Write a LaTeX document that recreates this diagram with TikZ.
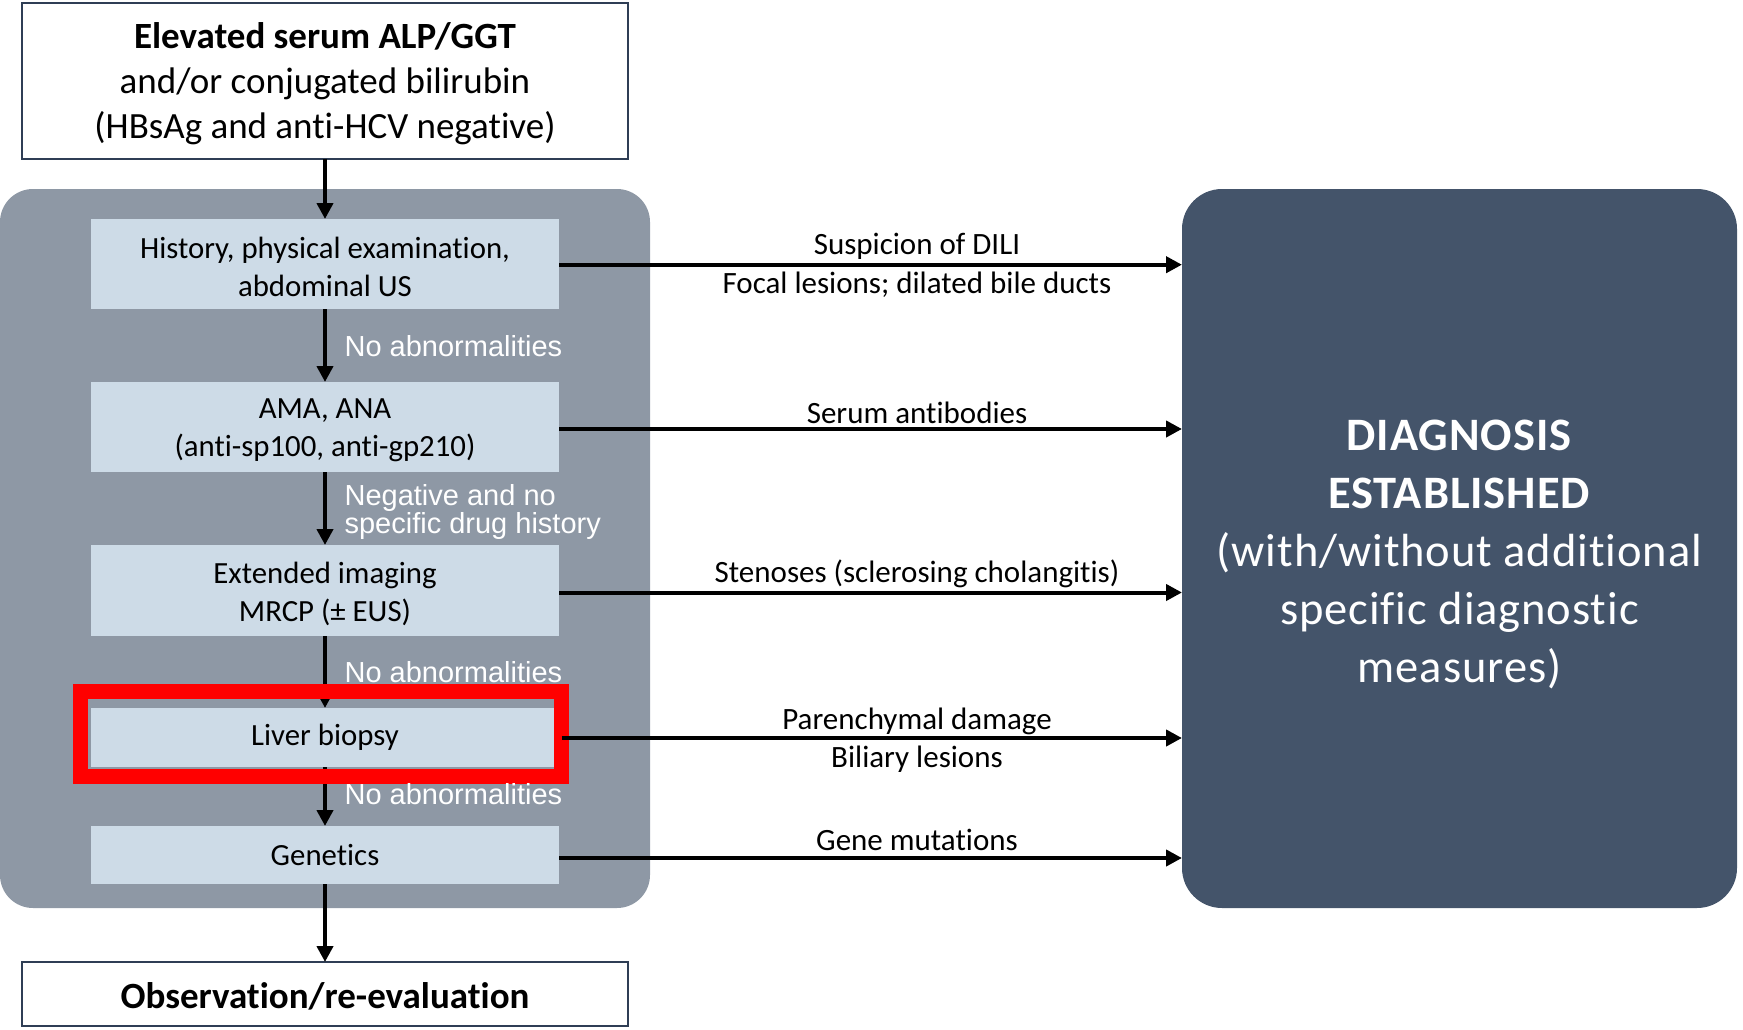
\documentclass[tikz,border=0pt]{standalone}
\usepackage{fontspec}
\setmainfont{Carlito}[Ligatures={NoCommon}]
\newfontfamily\labelfont{Liberation Sans}
\usetikzlibrary{arrows.meta}
\definecolor{panelgray}{RGB}{142,152,165}
\definecolor{lightbox}{RGB}{205,219,231}
\definecolor{darkbox}{RGB}{68,84,106}
\definecolor{borderc}{RGB}{47,62,85}
\newcommand\mytightlines{\lineskiplimit=-100pt\relax\lineskip=0pt\relax}
\begin{document}
\begin{tikzpicture}[x=1pt,y=-1pt,
  every node/.style={inner sep=0pt, outer sep=0pt},
  stepbox/.style={fill=lightbox, minimum width=468pt, align=center, font=\fontsize{30.8}{38.5}\selectfont},
  whitebox/.style={draw=borderc, line width=1.5pt, fill=white, minimum width=606pt, align=center},
  arr/.style={line width=4pt, -{Triangle[length=16pt,width=16pt]}},
  lbl/.style={font=\fontsize{31}{38}\selectfont},
  wlbl/.style={anchor=west, text=white, align=left, font=\labelfont\fontsize{29}{28}\selectfont\mytightlines},
]
\useasboundingbox (0,0) rectangle (1743,1030);
% containers
\node[fill=panelgray, rounded corners=33pt, minimum width=650pt, minimum height=719pt] (panel) at (325,548.5) {};
\node[fill=darkbox, rounded corners=40pt, minimum width=555pt, minimum height=719pt] (diag) at (1459.5,548.5) {};
\node[text=white, align=center, font=\addfontfeatures{LetterSpace=2}\fontsize{46.5}{58}\selectfont] (diagtext) at (1459.5,554) {\textbf{DIAGNOSIS}\\\textbf{ESTABLISHED}\\(with/without additional\\specific diagnostic\\measures)};
% top and bottom boxes
\node[whitebox, minimum height=156pt] (top) at (325,81) {};
\node[align=center, font=\fontsize{37}{45}\selectfont] (toptext) at (325,84) {\textbf{Elevated serum ALP/GGT}\\and/or conjugated bilirubin\\(HBsAg and anti-HCV negative)};
\node[whitebox, minimum height=64pt] (obs) at (325,994) {};
\node[font=\bfseries\fontsize{37}{45}\selectfont] (obstext) at (325,996) {Observation/re-evaluation};
% steps
\node[stepbox, minimum height=90pt] (b1) at (325,264) {};
\node[stepbox] (b1t) at (325,267) {History, physical examination,\\abdominal US};
\node[stepbox, minimum height=90pt] (b2) at (325,427) {};
\node[stepbox] (b2t) at (325,430.5) {AMA, ANA\\(anti-sp100, anti-gp210)};
\node[stepbox, minimum height=91pt] (b3) at (325,590.5) {};
\node[stepbox] (b3t) at (325,594) {Extended imaging\\MRCP (± EUS)};
\node[stepbox, minimum height=59pt] (b4) at (325,737.5) {Liver biopsy};
\node[stepbox, minimum height=58pt] (b5) at (325,855) {Genetics};
% vertical arrows
\draw[arr] (top.south) -- (b1.north);
\draw[arr] (b1.south) -- (b2.north);
\draw[arr] (b2.south) -- (b3.north);
\draw[arr] (b3.south) -- (b4.north);
\draw[arr] (b4.south) -- (b5.north);
\draw[arr] (b5.south) -- (obs.north);
% highlight frame
\node[draw=red, line width=15pt, minimum width=481pt, minimum height=85pt] (hl) at (321,734.2) {};
% horizontal arrows
\draw[arr] ([yshift=-0.7pt]b1.east) -- ([yshift=-0.7pt]b1.east -| diag.west);
\draw[arr] ([yshift=-2pt]b2.east) -- ([yshift=-2pt]b2.east -| diag.west);
\draw[arr] ([yshift=-2pt]b3.east) -- ([yshift=-2pt]b3.east -| diag.west);
\draw[arr] ([yshift=-3.8pt]hl.east) -- ([yshift=-3.8pt]hl.east -| diag.west);
\draw[arr] ([yshift=-3pt]b5.east) -- ([yshift=-3pt]b5.east -| diag.west);
% arrow labels
\node[lbl] (l1a) at (917,246) {Suspicion of DILI};
\node[lbl] (l1b) at (917,285) {Focal lesions; dilated bile ducts};
\node[lbl] (l2) at (917,413) {Serum antibodies};
\node[lbl] (l3) at (917,573.5) {Stenoses (sclerosing cholangitis)};
\node[lbl] (l4a) at (917,721.5) {Parenchymal damage};
\node[lbl] (l4b) at (917,759) {Biliary lesions};
\node[lbl] (l5) at (917,839.5) {Gene mutations};
% white labels
\node[wlbl] (w1) at (344.6,346) {No abnormalities};
\node[wlbl] (w2) at (344.6,512) {Negative and no\\specific drug history};
\node[wlbl] (w3) at (344.6,672) {No abnormalities};
\node[wlbl] (w4) at (344.6,794) {No abnormalities};
\end{tikzpicture}
\end{document}
